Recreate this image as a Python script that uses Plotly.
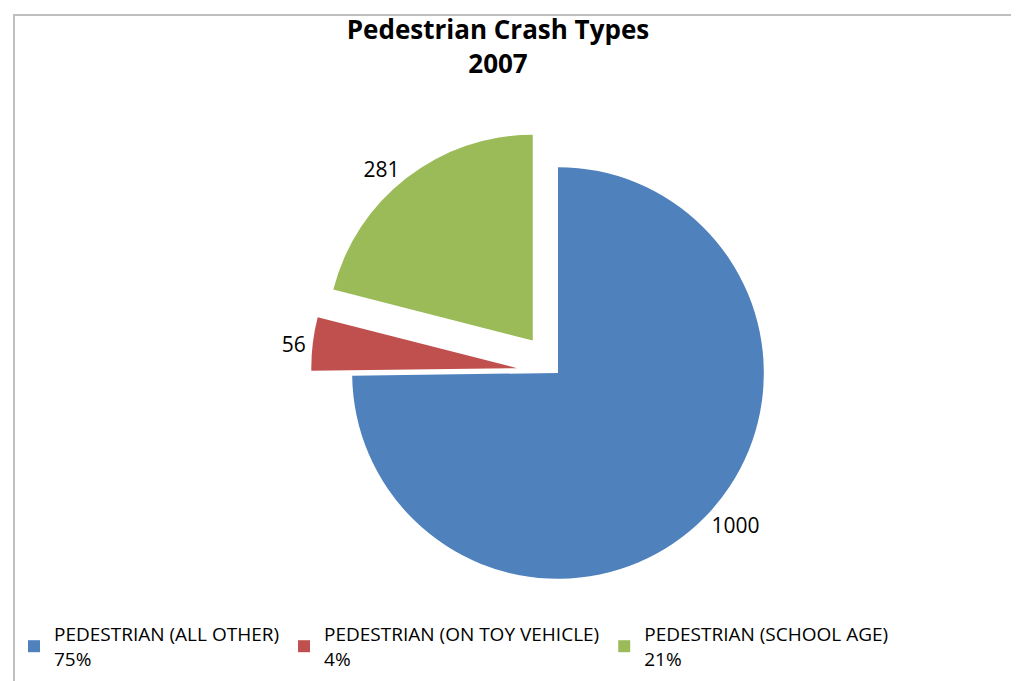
import plotly.graph_objects as go

categories = ["PEDESTRIAN (ALL OTHER)", "PEDESTRIAN (ON TOY VEHICLE)", "PEDESTRIAN (SCHOOL AGE)"]
values = [1000, 56, 281]
percent_labels = ["75%", "4%", "21%"]
colors = ["#4F81BD", "#C0504D", "#9BBB59"]
pulls = [0, 0.2, 0.2]

labels = [f"{c}<br>{p}" for c, p in zip(categories, percent_labels)]

W, H = 1019, 681
ML, MT = 6, 7
PW, PH = W - ML, H - MT
FONT = "Open Sans"

def px_x(x):
    return (x - ML) / PW

def px_y(y):
    return 1 - (y - MT) / PH

fig = go.Figure(go.Pie(
    labels=labels,
    values=values,
    text=[str(v) for v in values],
    textinfo="text",
    textposition="outside",
    textfont=dict(size=21, color="#000000", family=FONT),
    marker=dict(colors=colors, line=dict(width=0)),
    sort=False,
    direction="clockwise",
    rotation=0,
    pull=pulls,
    hole=0,
    domain=dict(x=[px_x(300), px_x(800)], y=[px_y(612), px_y(118)]),
    showlegend=True,
))

fig.update_layout(
    width=W, height=H,
    margin=dict(l=ML, r=0, t=MT, b=0, autoexpand=False),
    paper_bgcolor="white",
    plot_bgcolor="white",
    font=dict(family=FONT, color="#000000"),
    title=dict(
        text="<b>Pedestrian Crash Types<br>2007</b>",
        x=490 / W, xanchor="center",
        y=1 - 31 / H, yanchor="top",
        font=dict(size=26, family=FONT, color="#000000"),
    ),
    legend=dict(
        orientation="h",
        x=0.0, xanchor="left",
        y=px_y(607), yanchor="top",
        font=dict(size=19, family=FONT, color="#000000"),
        itemsizing="constant",
        tracegroupgap=0,
        itemwidth=30,
        bgcolor="rgba(0,0,0,0)",
    ),
    shapes=[
        dict(type="rect", xref="paper", yref="paper", x0=0, y0=-0.05, x1=1.05, y1=1,
             line=dict(color="#BFBFBF", width=2), fillcolor="rgba(0,0,0,0)", layer="below"),
    ],
)

fig.write_html("out.html")
